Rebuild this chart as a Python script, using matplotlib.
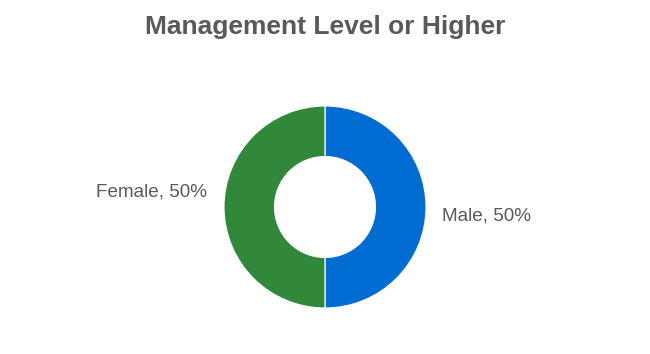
import matplotlib.pyplot as plt

plt.rcParams['font.family'] = ['Liberation Sans', 'DejaVu Sans']

categories = ['Male', 'Female']
shares = [50, 50]
colors = ['#006cd1', '#32883a']

fig = plt.figure(figsize=(6.5, 3.54), dpi=100)
ax = fig.add_axes([0, 0, 1, 1])

ax.pie(shares, colors=colors, startangle=90, counterclock=False,
       wedgeprops=dict(width=0.5, edgecolor='white', linewidth=0.8))

# keep 1 data unit = 101 px, donut centre at (325, 207) px
ax.set_xlim(-325 / 101, 325 / 101)
ax.set_ylim(-147 / 101, 207 / 101)
ax.set_aspect('auto')
ax.axis('off')

label_pos = [(1.6, -0.09), (-1.72, 0.15)]
for name, val, (x, y) in zip(categories, shares, label_pos):
    ax.text(x, y, f'{name}, {val}%', ha='center', va='center',
            fontsize=13.6, color='#595959')

fig.text(0.5, 1 - 27 / 354, 'Management Level or Higher', ha='center', va='center',
         fontsize=19, fontweight='bold', color='#595959')

fig.savefig('out.png', dpi=100)
